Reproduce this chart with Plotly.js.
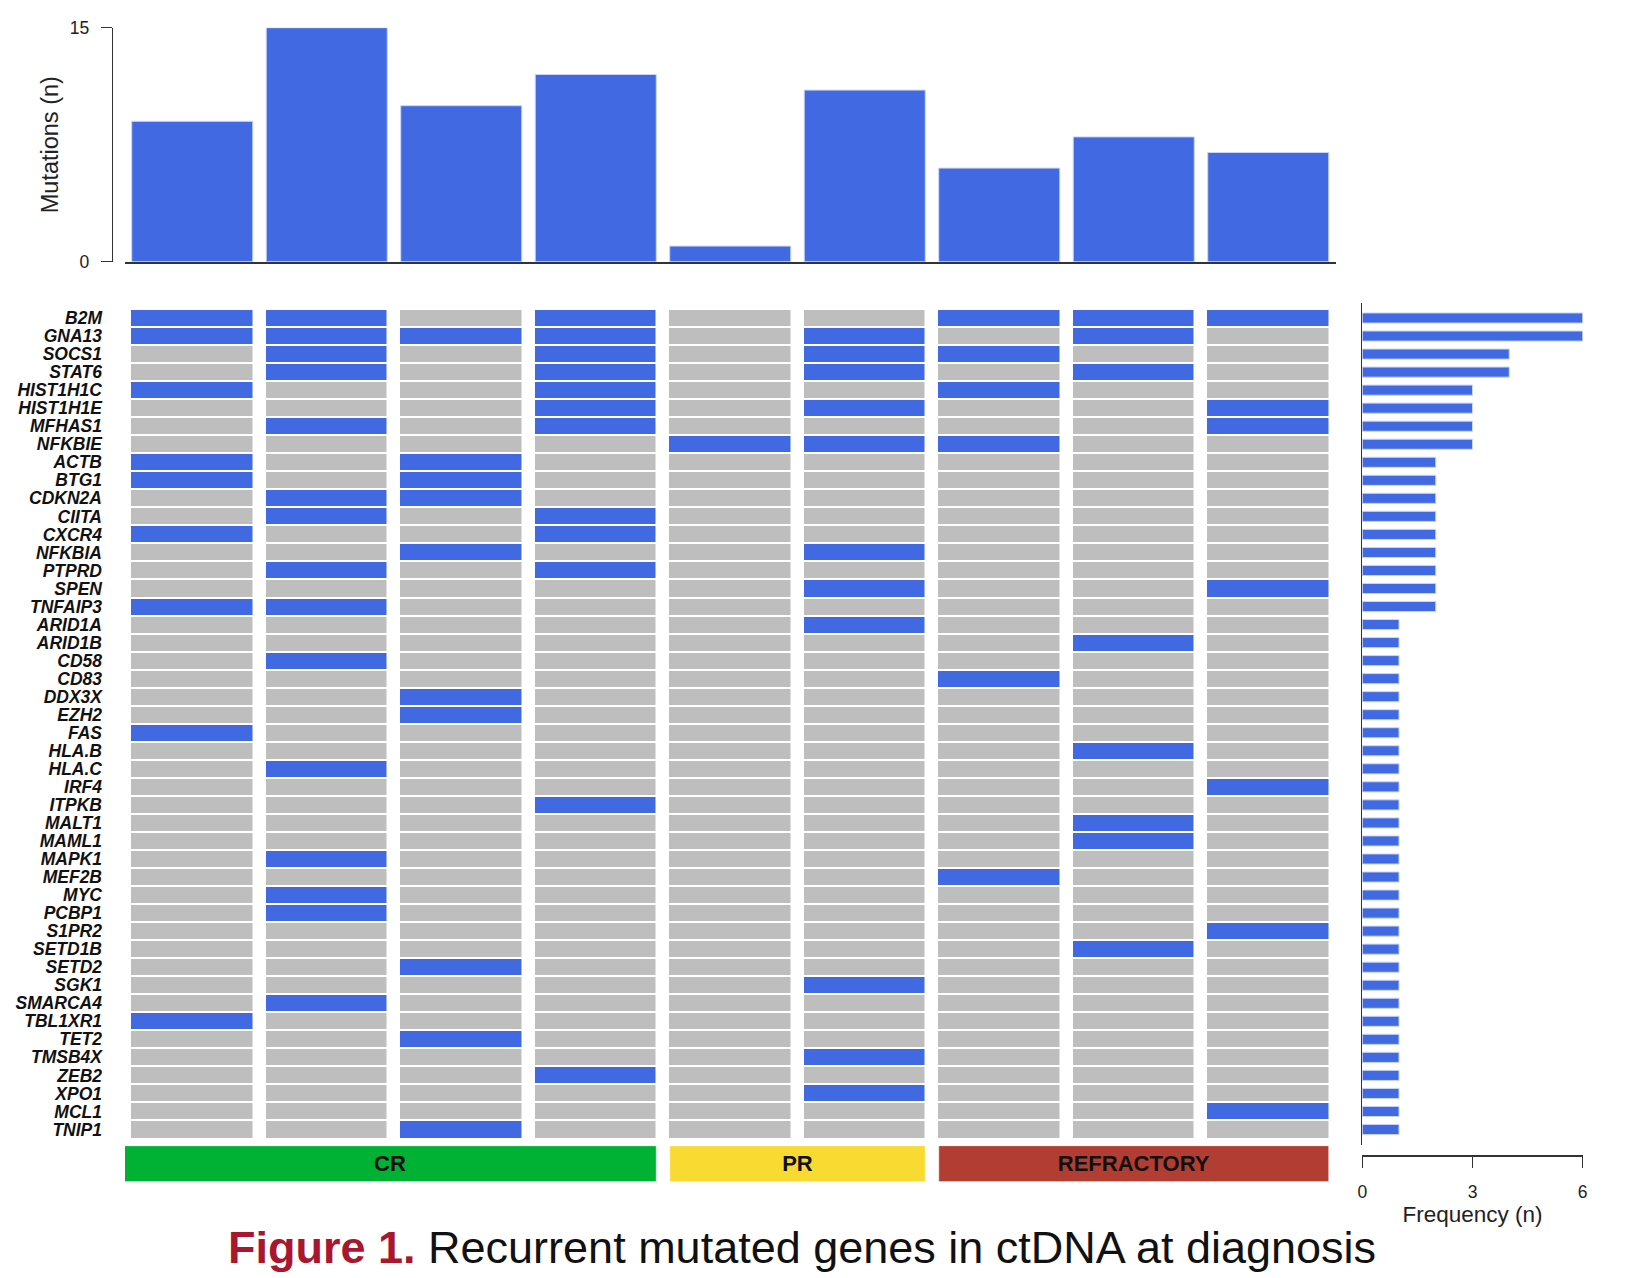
<!DOCTYPE html>
<html>
<head>
<meta charset="utf-8">
<script src="https://cdn.plot.ly/plotly-3.0.1.min.js"></script>
<style>
  html, body { margin: 0; padding: 0; background: #ffffff; }
  #chart { width: 1626px; height: 1278px; }
</style>
</head>
<body>
<div id="chart"></div>
<script>
// ---------------- DATA ----------------
const patientIndex = [0, 1, 2, 3, 4, 5, 6, 7, 8];
const patientGroup = ['CR', 'CR', 'CR', 'CR', 'PR', 'PR', 'REFRACTORY', 'REFRACTORY', 'REFRACTORY'];
const groupNames = ['CR', 'PR', 'REFRACTORY'];
const groupColors = ['#00B233', '#F8DA31', '#B23D33'];

const mutationsPerPatient = [9, 15, 10, 12, 1, 11, 6, 8, 7];

const genes = [
  'B2M', 'GNA13', 'SOCS1', 'STAT6', 'HIST1H1C', 'HIST1H1E', 'MFHAS1', 'NFKBIE',
  'ACTB', 'BTG1', 'CDKN2A', 'CIITA', 'CXCR4', 'NFKBIA', 'PTPRD', 'SPEN', 'TNFAIP3',
  'ARID1A', 'ARID1B', 'CD58', 'CD83', 'DDX3X', 'EZH2', 'FAS', 'HLA.B', 'HLA.C',
  'IRF4', 'ITPKB', 'MALT1', 'MAML1', 'MAPK1', 'MEF2B', 'MYC', 'PCBP1', 'S1PR2',
  'SETD1B', 'SETD2', 'SGK1', 'SMARCA4', 'TBL1XR1', 'TET2', 'TMSB4X', 'ZEB2',
  'XPO1', 'MCL1', 'TNIP1'
];

const geneFrequency = [
  6, 6, 4, 4, 3, 3, 3, 3,
  2, 2, 2, 2, 2, 2, 2, 2, 2,
  1, 1, 1, 1, 1, 1, 1, 1, 1, 1, 1, 1, 1, 1, 1, 1, 1, 1, 1, 1, 1, 1, 1, 1, 1, 1, 1, 1, 1
];

// rows follow `genes`, columns follow `patientIndex`; 1 = mutated
const mutationMatrix = [
  [1,1,0,1,0,0,1,1,1], // B2M
  [1,1,1,1,0,1,0,1,0], // GNA13
  [0,1,0,1,0,1,1,0,0], // SOCS1
  [0,1,0,1,0,1,0,1,0], // STAT6
  [1,0,0,1,0,0,1,0,0], // HIST1H1C
  [0,0,0,1,0,1,0,0,1], // HIST1H1E
  [0,1,0,1,0,0,0,0,1], // MFHAS1
  [0,0,0,0,1,1,1,0,0], // NFKBIE
  [1,0,1,0,0,0,0,0,0], // ACTB
  [1,0,1,0,0,0,0,0,0], // BTG1
  [0,1,1,0,0,0,0,0,0], // CDKN2A
  [0,1,0,1,0,0,0,0,0], // CIITA
  [1,0,0,1,0,0,0,0,0], // CXCR4
  [0,0,1,0,0,1,0,0,0], // NFKBIA
  [0,1,0,1,0,0,0,0,0], // PTPRD
  [0,0,0,0,0,1,0,0,1], // SPEN
  [1,1,0,0,0,0,0,0,0], // TNFAIP3
  [0,0,0,0,0,1,0,0,0], // ARID1A
  [0,0,0,0,0,0,0,1,0], // ARID1B
  [0,1,0,0,0,0,0,0,0], // CD58
  [0,0,0,0,0,0,1,0,0], // CD83
  [0,0,1,0,0,0,0,0,0], // DDX3X
  [0,0,1,0,0,0,0,0,0], // EZH2
  [1,0,0,0,0,0,0,0,0], // FAS
  [0,0,0,0,0,0,0,1,0], // HLA.B
  [0,1,0,0,0,0,0,0,0], // HLA.C
  [0,0,0,0,0,0,0,0,1], // IRF4
  [0,0,0,1,0,0,0,0,0], // ITPKB
  [0,0,0,0,0,0,0,1,0], // MALT1
  [0,0,0,0,0,0,0,1,0], // MAML1
  [0,1,0,0,0,0,0,0,0], // MAPK1
  [0,0,0,0,0,0,1,0,0], // MEF2B
  [0,1,0,0,0,0,0,0,0], // MYC
  [0,1,0,0,0,0,0,0,0], // PCBP1
  [0,0,0,0,0,0,0,0,1], // S1PR2
  [0,0,0,0,0,0,0,1,0], // SETD1B
  [0,0,1,0,0,0,0,0,0], // SETD2
  [0,0,0,0,0,1,0,0,0], // SGK1
  [0,1,0,0,0,0,0,0,0], // SMARCA4
  [1,0,0,0,0,0,0,0,0], // TBL1XR1
  [0,0,1,0,0,0,0,0,0], // TET2
  [0,0,0,0,0,1,0,0,0], // TMSB4X
  [0,0,0,1,0,0,0,0,0], // ZEB2
  [0,0,0,0,0,1,0,0,0], // XPO1
  [0,0,0,0,0,0,0,0,1], // MCL1
  [0,0,1,0,0,0,0,0,0]  // TNIP1
];

// ---------------- STYLE ----------------
const W = 1626, H = 1278;
const BLUE = '#4169E1';
const GRAY = '#BEBEBE';
const AXIS = '#333333';
const FONT = 'Liberation Sans, Arial, Helvetica, sans-serif';
const px = v => v / W;            // x pixel -> paper fraction
const py = v => 1 - v / H;        // y pixel (from top) -> paper fraction

const mainX = [px(125), px(1335.5)];
const barW = 0.9;

// group bands built from group membership
const bandX = [], bandW = [];
groupNames.forEach((g, k) => {
  const idx = patientIndex.filter(i => patientGroup[i] === g);
  const lo = Math.min(...idx) - (k === 0 ? 0.51 : barW / 2);
  const hi = Math.max(...idx) + barW / 2;
  bandX.push((lo + hi) / 2);
  bandW.push(hi - lo);
});

const traces = [
  // top: mutations per patient
  {
    type: 'bar', x: patientIndex, y: mutationsPerPatient, width: barW,
    xaxis: 'x', yaxis: 'y',
    marker: { color: BLUE, line: { color: '#C9D6FA', width: 1 } },
    hoverinfo: 'y'
  },
  // oncoprint matrix
  {
    type: 'heatmap', x: patientIndex, y: genes, z: mutationMatrix,
    xaxis: 'x2', yaxis: 'y2',
    zmin: 0, zmax: 1, showscale: false,
    colorscale: [[0, GRAY], [0.5, GRAY], [0.5, BLUE], [1, BLUE]],
    xgap: 13.5, ygap: 2,
    hoverinfo: 'x+y+z'
  },
  // right: gene frequency
  {
    type: 'bar', orientation: 'h', x: geneFrequency, y: genes, width: 0.56,
    xaxis: 'x3', yaxis: 'y3',
    marker: { color: BLUE, line: { color: '#C9D6FA', width: 1 } },
    hoverinfo: 'x+y'
  },
  // response group bands
  {
    type: 'bar', x: bandX, y: groupNames.map(() => 1), width: bandW,
    xaxis: 'x4', yaxis: 'y4',
    marker: { color: groupColors, line: { color: 'rgba(255,255,255,0.6)', width: 1 } },
    text: groupNames, textposition: 'inside', insidetextanchor: 'middle',
    textangle: 0, constraintext: 'none',
    textfont: { family: FONT, size: 22, color: '#111111', weight: 'bold' },
    hoverinfo: 'text'
  }
];

const layout = {
  width: W, height: H,
  margin: { l: 0, r: 0, t: 0, b: 0, pad: 0 },
  paper_bgcolor: '#ffffff', plot_bgcolor: 'rgba(0,0,0,0)',
  showlegend: false,
  font: { family: FONT, color: '#222222' },
  title: {
    text: '<span style="color:#A8172F"><b>Figure 1.</b></span> Recurrent mutated genes in ctDNA at diagnosis',
    font: { family: FONT, size: 45, color: '#111111' },
    xref: 'paper', yref: 'paper',
    x: px(228), xanchor: 'left',
    y: py(1247), yanchor: 'middle'
  },
  // top bar chart
  xaxis: {
    domain: mainX, range: [-0.5, 8.5], anchor: 'y',
    showline: true, linecolor: AXIS, linewidth: 2,
    showticklabels: false, ticks: '', showgrid: false, zeroline: false,
    automargin: false
  },
  yaxis: {
    domain: [py(261.7), py(27.7)], range: [0, 15],
    anchor: 'free', position: px(111.7),
    showline: true, linecolor: AXIS, linewidth: 1.5,
    ticks: 'outside', ticklen: 11, tickwidth: 1.5, tickcolor: AXIS,
    tickvals: [0, 15], ticktext: ['0', '15'], ticklabelstandoff: 8,
    tickfont: { family: FONT, size: 17.5, color: '#222222' },
    showgrid: false, zeroline: false, automargin: false,
    title: { text: 'Mutations (n)', font: { family: FONT, size: 23.5, color: '#222222' }, standoff: 3 }
  },
  // matrix
  xaxis2: {
    domain: mainX, range: [-0.5, 8.5], anchor: 'y2',
    showline: false, showticklabels: false, ticks: '', showgrid: false, zeroline: false,
    automargin: false
  },
  yaxis2: {
    domain: [py(1138.5), py(309)], type: 'category', range: [45.5, -0.5], anchor: 'x2',
    showline: false, showgrid: false, zeroline: false,
    tickmode: 'array', tickvals: genes, ticktext: genes,
    ticks: '', ticklabelstandoff: 22,
    tickfont: { family: FONT, size: 17.5, color: '#111111', weight: 'bold', style: 'italic' },
    automargin: false
  },
  // frequency panel
  xaxis3: {
    domain: [px(1362.3), px(1582.7)], range: [0, 6],
    anchor: 'free', position: py(1155),
    showline: true, linecolor: AXIS, linewidth: 1.5,
    ticks: 'outside', ticklen: 11, tickwidth: 1.5, tickcolor: AXIS,
    tickvals: [0, 3, 6], ticktext: ['0', '3', '6'], ticklabelstandoff: 9,
    tickfont: { family: FONT, size: 17.5, color: '#222222' },
    showgrid: false, zeroline: false, automargin: false,
    title: { text: 'Frequency (n)', font: { family: FONT, size: 22.5, color: '#222222' }, standoff: 5 }
  },
  yaxis3: {
    domain: [py(1145), py(303)], type: 'category', range: [45.86, -0.832], anchor: 'x3',
    showline: true, linecolor: AXIS, linewidth: 1.5,
    showticklabels: false, ticks: '', showgrid: false, zeroline: false,
    automargin: false
  },
  // group bands
  xaxis4: {
    domain: mainX, range: [-0.5, 8.5], anchor: 'y4',
    visible: false, automargin: false
  },
  yaxis4: {
    domain: [py(1181.7), py(1145.7)], range: [0, 1], anchor: 'x4',
    visible: false, automargin: false
  }
};

Plotly.newPlot('chart', traces, layout, { staticPlot: true, displayModeBar: false });
</script>
</body>
</html>
